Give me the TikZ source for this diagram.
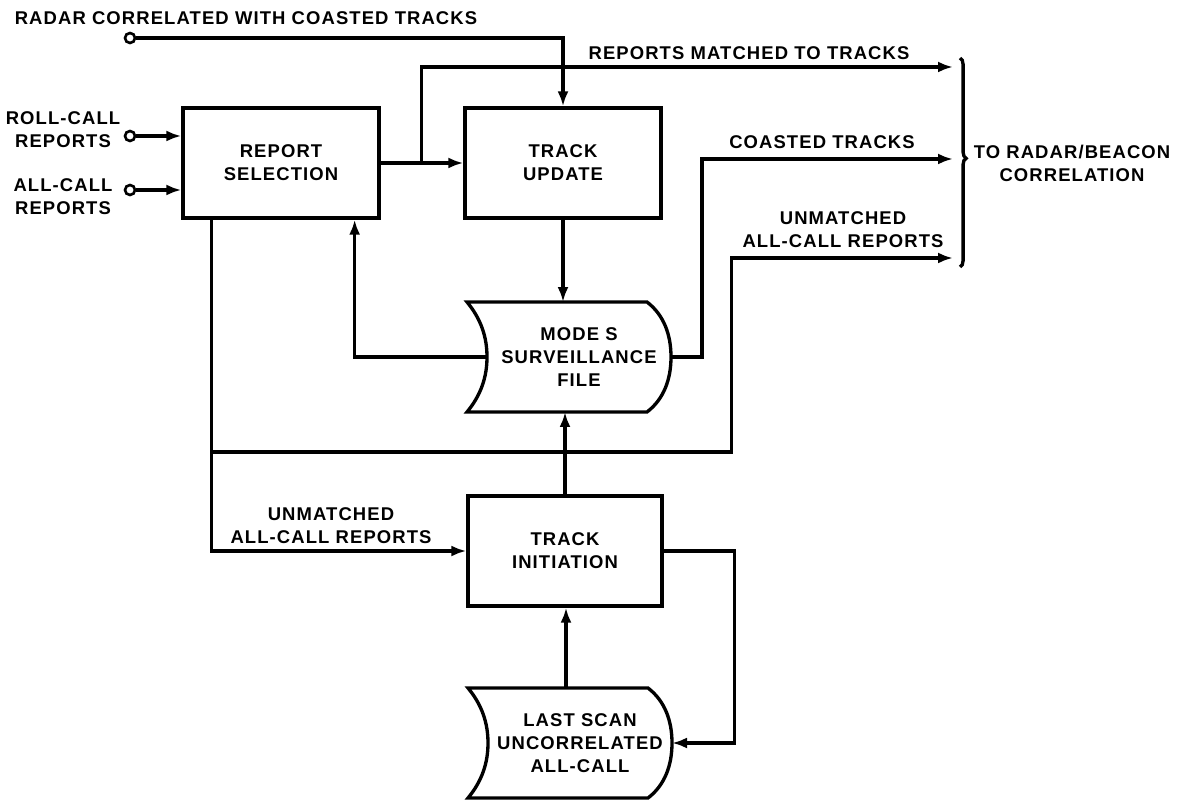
\documentclass[tikz,border=0pt]{standalone}
\usepackage{fontspec}
\setmainfont{Liberation Sans}[LetterSpace=6]
\usetikzlibrary{arrows.meta,calc,decorations.pathreplacing}

\tikzset{
	storefile/.pic={
		\draw (-102,-55) -- (78,-55)
			.. controls (95,-42) and (102,-22) .. (102,0)
			.. controls (102,22) and (95,42) .. (78,55)
			-- (-102,55)
			.. controls (-88,38) and (-82,20) .. (-82,0)
			.. controls (-82,-20) and (-88,-38) .. (-102,-55) -- cycle;
		\node[align=center] (-txt) at (10,0) {#1};
		\coordinate (-north) at (-4,-55);
		\coordinate (-south) at (-4,55);
		\coordinate (-west) at (-82,0);
		\coordinate (-east) at (102,0);
	}
}

\begin{document}
\begin{tikzpicture}[x=0.02cm, y=-0.02cm, line width=1.9pt, every node/.style={font=\bfseries\fontsize{10.5}{13}\selectfont}, >={Latex[length=3mm,width=2.2mm]}, box/.style={draw, minimum width=3.92cm, minimum height=2.2cm, align=center}, lbl/.style={align=center, inner sep=0pt}, port/.style={draw, circle, inner sep=0pt, minimum size=0.2cm, line width=1.5pt}]
	\useasboundingbox (0,0) rectangle (1189,803);
	% boxes and files
	\node[box] (rs) at (281,163) {REPORT\\SELECTION};
	\node[box] (tu) at (563,163) {TRACK\\UPDATE};
	\node[box, minimum width=3.88cm] (ti) at (565,551) {TRACK\\INITIATION};
	\pic (msf) at (569,357) {storefile={MODE S\\SURVEILLANCE\\FILE}};
	\pic (lsf) at (570,743) {storefile={LAST SCAN\\UNCORRELATED\\ALL-CALL}};
	% inputs
	\node[port] (rad) at (130,38) {};
	\node[port] (rc) at (130,136) {};
	\node[port] (ac) at (130,190) {};
	\node[lbl] (radl) at (246,18) {RADAR CORRELATED WITH COASTED TRACKS};
	\node[lbl] (rcl) at (63,130) {ROLL-CALL\\REPORTS};
	\node[lbl] (acl) at (63,197) {ALL-CALL\\REPORTS};
	% outputs
	\coordinate (out1) at (953,67);
	\coordinate (out2) at (953,159);
	\coordinate (out3) at (953,258);
	\coordinate (br) at ([xshift=0.82cm]rs.east);
	\coordinate (split) at ([xshift=0.6cm]rs.south west |- 0,452);
	\node[lbl] (rmt) at (749,53) {REPORTS MATCHED TO TRACKS};
	\node[lbl] (cst) at (822,142) {COASTED TRACKS};
	\node[lbl] (uar) at (843,230) {UNMATCHED\\ALL-CALL REPORTS};
	\node[lbl] (ual) at (331,526) {UNMATCHED\\ALL-CALL REPORTS};
	\node[lbl] (rbc) at (1072,163) {TO RADAR/BEACON\\CORRELATION};
	\draw[decorate, decoration={brace, amplitude=3.5pt, aspect=0.48}] (960,58) -- (960,267);
	% connectors
	\draw[->] (rad) -| (tu.north);
	\draw[->] (rc) -- (rc -| rs.west);
	\draw[->] (ac) -- (ac -| rs.west);
	\draw[->] (rs) -- (tu);
	\draw[->] (br) |- (out1);
	\draw[->] (tu.south) -- (tu.south |- msf-north);
	\draw[->] (msf-west) -| ([xshift=-0.52cm]rs.south east);
	\draw[->] (msf-east) -- ++(31,0) |- (out2);
	\draw[->] ([xshift=0.6cm]rs.south west) |- (ti.west);
	\draw[->] (split) -- ++(520,0) |- (out3);
	\draw[->] (ti.north) -- (ti.north |- msf-south);
	\draw[->] (lsf-north) -- (lsf-north |- ti.south);
	\draw[->] (ti.east) -- ++(71,0) |- (lsf-east);
\end{tikzpicture}
\end{document}
